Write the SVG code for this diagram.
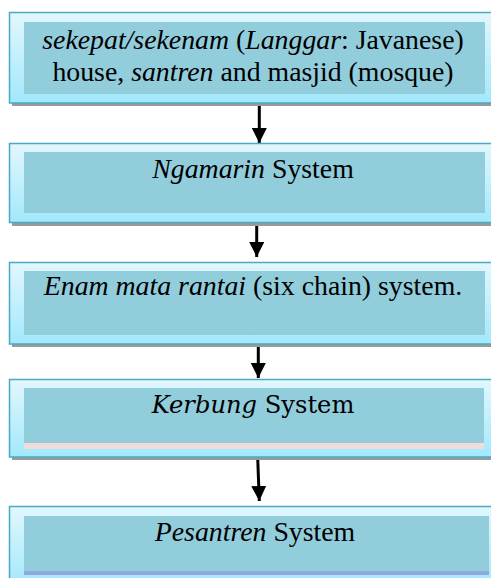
<svg xmlns="http://www.w3.org/2000/svg" width="491" height="578" viewBox="0 0 491 578">
<defs>
<linearGradient id="g" x1="0" y1="0" x2="0" y2="1">
<stop offset="0" stop-color="#e2f7fd"/>
<stop offset="1" stop-color="#a2e8fc"/>
</linearGradient>
<marker id="ah" viewBox="0 0 10 10" refX="10" refY="5" markerWidth="5" markerHeight="5" markerUnits="strokeWidth" orient="auto">
<path d="M0,0 L10,5 L0,10 Z" fill="#000"/>
</marker>
</defs>
<style>
.sh{fill:#9a9a9a}
.out{fill:url(#g);stroke:#4aaac4;stroke-width:1.5}
.in{fill:#92cddc}
.t{font-family:"Liberation Serif","Times New Roman",serif;font-size:27.8px;fill:#000;text-anchor:middle}
.k{font-family:"DejaVu Serif",Georgia,serif;font-size:24.2px;fill:#000;text-anchor:middle}
.c{stroke:#000;stroke-width:3;fill:none;marker-end:url(#ah)}
</style>
<rect width="491" height="578" fill="#fff"/>
<g id="connectors">
<line class="c" x1="259.3" y1="103" x2="259.3" y2="143"/>
<line class="c" x1="256.7" y1="223" x2="256.7" y2="257"/>
<line class="c" x1="258.3" y1="345" x2="258.3" y2="378"/>
<line class="c" x1="257.7" y1="458" x2="259.3" y2="501"/>
</g>
<g id="n1">
<rect class="sh" x="12" y="15" width="490" height="91"/>
<rect class="out" x="9.5" y="12.5" width="490" height="90.5"/>
<rect class="in" x="24" y="22" width="461" height="72"/>
<text class="t" x="253" y="49"><tspan font-style="italic">sekepat/sekenam</tspan> (<tspan font-style="italic">Langgar</tspan>: Javanese)</text>
<text class="t" x="253" y="81">house, <tspan font-style="italic">santren</tspan> and masjid (mosque)</text>
</g>
<g id="n2">
<rect class="sh" x="12" y="146" width="490" height="80"/>
<rect class="out" x="9.5" y="143.5" width="490" height="79"/>
<rect class="in" x="24" y="152" width="461" height="61"/>
<text class="t" x="253" y="178"><tspan font-style="italic">Ngamarin</tspan> System</text>
</g>
<g id="n3">
<rect class="sh" x="12" y="265" width="490" height="82"/>
<rect class="out" x="9.5" y="262.5" width="490" height="81.5"/>
<rect class="in" x="24" y="271" width="461" height="64"/>
<text class="t" x="253" y="295"><tspan font-style="italic">Enam mata rantai</tspan> (six chain) system.</text>
</g>
<g id="n4">
<rect class="sh" x="12" y="382" width="490" height="78"/>
<rect class="out" x="9.5" y="379.5" width="490" height="77.5"/>
<rect class="in" x="24" y="388" width="460" height="55"/>
<rect x="24" y="443" width="460" height="6" fill="#f2dcdb"/>
<text class="k" x="253" y="413"><tspan font-style="italic">Kerbung</tspan> System</text>
</g>
<g id="n5">
<rect class="out" x="9.5" y="506.5" width="490" height="80"/>
<rect class="in" x="24" y="516" width="465" height="55"/>
<rect x="24" y="571" width="465" height="4" fill="#8eaadb"/>
<text class="t" x="255" y="541"><tspan font-style="italic">Pesantren</tspan> System</text>
</g>
</svg>
